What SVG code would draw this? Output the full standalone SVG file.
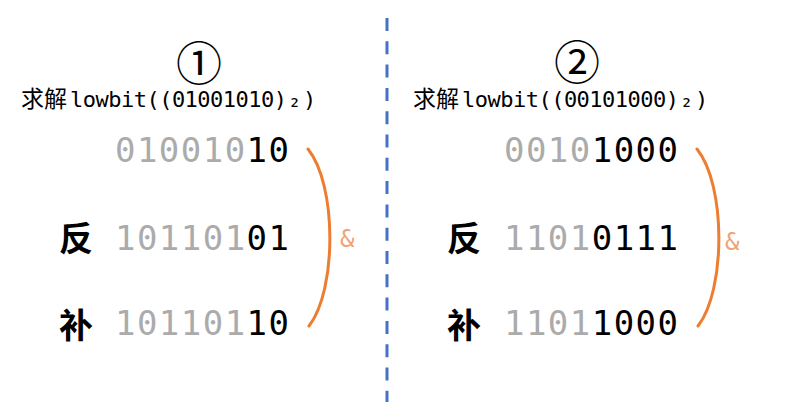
<svg xmlns="http://www.w3.org/2000/svg" width="791" height="419" viewBox="0 0 791 419">
<style>
.circ{font-family:"Noto Sans CJK SC","DejaVu Sans",sans-serif;font-size:46px;fill:#000;text-anchor:middle}
.sub{font-family:"DejaVu Sans Mono",monospace;font-size:22px;fill:#000}
.cjk{font-family:"Noto Sans CJK SC",sans-serif;font-size:23px;fill:#000}
.lab{font-family:"Noto Sans CJK SC",sans-serif;font-size:34px;font-weight:700;fill:#000}
.bits{font-family:"DejaVu Sans Mono",monospace;font-size:34px;fill:#000}
.g{fill:#ABABAB}
.amp{font-family:"DejaVu Sans Mono",monospace;font-size:24px;fill:#EFA274}
.br{fill:none;stroke:#ED7D31;stroke-width:3;stroke-linecap:round}
.div{stroke:#4472C4;stroke-width:3;stroke-dasharray:13 10.3}
</style>
<g id="panel1">
<text class="circ" x="199" y="80">①</text>
<text x="21" y="107"><tspan class="cjk">求解</tspan><tspan class="sub" x="70" textLength="217" lengthAdjust="spacing">lowbit((01001010)</tspan><tspan class="sub" x="288">₂</tspan><tspan class="sub" x="303">)</tspan></text>
<text class="bits" x="115" y="162" textLength="174" lengthAdjust="spacing"><tspan class="g">010010</tspan>10</text>
<text class="lab" x="59" y="251">反</text>
<text class="bits" x="115" y="250" textLength="174" lengthAdjust="spacing"><tspan class="g">101101</tspan>01</text>
<text class="lab" x="59" y="338">补</text>
<text class="bits" x="115" y="335" textLength="174" lengthAdjust="spacing"><tspan class="g">101101</tspan>10</text>
</g>
<g id="panel2">
<text class="circ" x="577" y="79">②</text>
<text x="413" y="107"><tspan class="cjk">求解</tspan><tspan class="sub" x="462" textLength="217" lengthAdjust="spacing">lowbit((00101000)</tspan><tspan class="sub" x="680">₂</tspan><tspan class="sub" x="695">)</tspan></text>
<text class="bits" x="504" y="162" textLength="174" lengthAdjust="spacing"><tspan class="g">0010</tspan>1000</text>
<text class="lab" x="447" y="251">反</text>
<text class="bits" x="504" y="250" textLength="174" lengthAdjust="spacing"><tspan class="g">1101</tspan>0111</text>
<text class="lab" x="447" y="338">补</text>
<text class="bits" x="504" y="335" textLength="174" lengthAdjust="spacing"><tspan class="g">1101</tspan>1000</text>
</g>
<g id="connectors">
<line class="div" x1="387" y1="18" x2="387" y2="402"/>
<path class="br" d="M308,149 C337,185 337,290 309,326"/>
<text class="amp" x="340" y="247">&amp;</text>
<path class="br" d="M697,149 C726,185 726,290 698,326"/>
<text class="amp" x="725" y="250">&amp;</text>
</g>
</svg>
